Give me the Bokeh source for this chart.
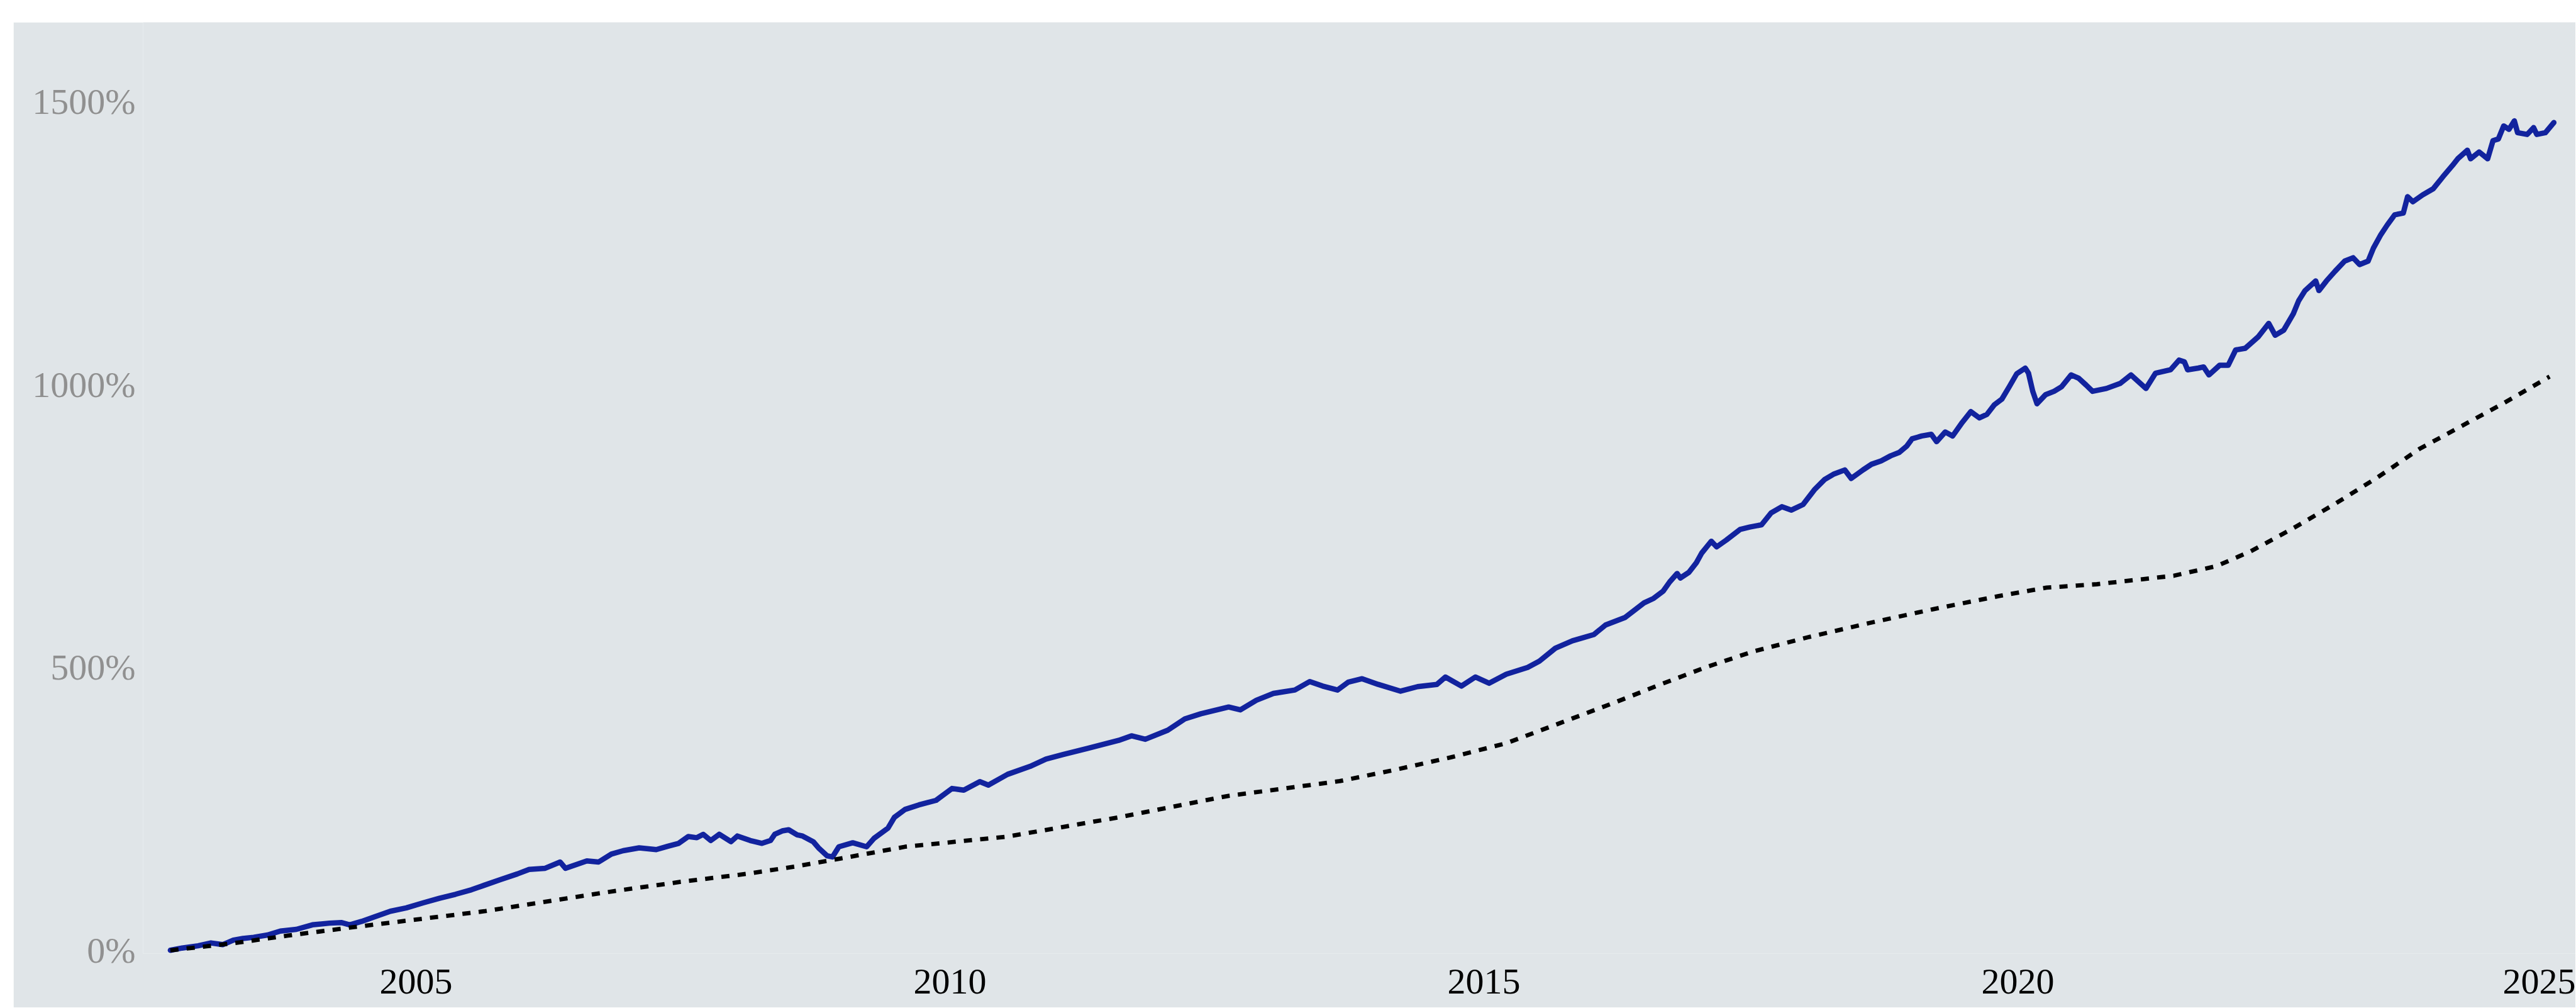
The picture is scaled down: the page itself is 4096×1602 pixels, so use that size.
from bokeh.plotting import figure
from bokeh.models import FixedTicker, Range1d, ColumnDataSource
from bokeh.embed import file_html
from bokeh.resources import INLINE

# ---- data (decimal years, cumulative return in %) ----
fund_years = [2002.70, 2002.81, 2002.96, 2003.08, 2003.19, 2003.29, 2003.38, 2003.48, 2003.61, 2003.73,
              2003.88, 2004.03, 2004.19, 2004.30, 2004.38, 2004.49, 2004.61, 2004.76, 2004.91, 2005.07,
              2005.22, 2005.37, 2005.52, 2005.64, 2005.79, 2005.95, 2006.06, 2006.21, 2006.35, 2006.40,
              2006.60, 2006.71, 2006.83, 2006.94, 2007.09, 2007.25, 2007.36, 2007.46, 2007.55, 2007.63,
              2007.69, 2007.76, 2007.84, 2007.95, 2008.01, 2008.13, 2008.24, 2008.32, 2008.36, 2008.43,
              2008.49, 2008.57, 2008.62, 2008.72, 2008.77, 2008.85, 2008.90, 2008.96, 2009.09, 2009.22,
              2009.29, 2009.42, 2009.48, 2009.58, 2009.71, 2009.87, 2010.02, 2010.13, 2010.28, 2010.36,
              2010.54, 2010.75, 2010.90, 2011.06, 2011.29, 2011.58, 2011.70, 2011.83, 2012.04, 2012.20,
              2012.35, 2012.61, 2012.72, 2012.87, 2013.03, 2013.23, 2013.37, 2013.49, 2013.63, 2013.73,
              2013.86, 2014.01, 2014.22, 2014.38, 2014.56, 2014.64, 2014.79, 2014.92, 2015.05, 2015.21,
              2015.41, 2015.52, 2015.67, 2015.83, 2016.03, 2016.14, 2016.32, 2016.50, 2016.59, 2016.68,
              2016.74, 2016.81, 2016.84, 2016.92, 2016.99, 2017.04, 2017.13, 2017.18, 2017.27, 2017.40,
              2017.49, 2017.60, 2017.69, 2017.79, 2017.88, 2017.99, 2018.10, 2018.19, 2018.28, 2018.38,
              2018.44, 2018.55, 2018.63, 2018.72, 2018.81, 2018.89, 2018.96, 2019.01, 2019.10, 2019.19,
              2019.24, 2019.32, 2019.39, 2019.48, 2019.56, 2019.64, 2019.71, 2019.78, 2019.85, 2019.92,
              2019.99, 2020.07, 2020.10, 2020.14, 2020.18, 2020.26, 2020.34, 2020.41, 2020.50, 2020.57,
              2020.64, 2020.70, 2020.83, 2020.96, 2021.06, 2021.13, 2021.20, 2021.29, 2021.43, 2021.51,
              2021.56, 2021.59, 2021.69, 2021.74, 2021.79, 2021.89, 2021.97, 2022.04, 2022.13, 2022.25,
              2022.35, 2022.41, 2022.49, 2022.58, 2022.63, 2022.69, 2022.79, 2022.82, 2022.89, 2022.97,
              2023.06, 2023.14, 2023.20, 2023.28, 2023.33, 2023.40, 2023.46, 2023.53, 2023.61, 2023.65,
              2023.70, 2023.79, 2023.89, 2023.98, 2024.07, 2024.12, 2024.21, 2024.24, 2024.32, 2024.40,
              2024.45, 2024.50, 2024.55, 2024.60, 2024.65, 2024.68, 2024.77, 2024.83, 2024.86, 2024.94,
              2025.02]
fund_values = [0, 4, 8, 13, 10, 18, 21, 23, 27, 34,
               37, 45, 48, 49, 45, 51, 59, 69, 75, 84,
               92, 99, 107, 115, 125, 135, 143, 145, 156, 145,
               158, 156, 170, 176, 181, 178, 184, 189, 201, 199,
               205, 194, 205, 192, 202, 194, 189, 194, 205, 211,
               213, 204, 202, 192, 181, 167, 165, 183, 190, 183,
               198, 216, 235, 249, 257, 265, 286, 283, 298, 292,
               311, 325, 338, 346, 357, 371, 379, 373, 389, 409,
               418, 430, 425, 442, 454, 460, 475, 467, 460, 474,
               480, 470, 458, 466, 470, 483, 467, 483, 472, 488,
               500, 511, 534, 547, 558, 575, 588, 614, 622, 635,
               651, 666, 658, 668, 685, 702, 723, 713, 725, 744,
               748, 752, 773, 784, 778, 788, 815, 832, 842, 849,
               834, 849, 859, 865, 874, 880, 891, 904, 909, 912,
               899, 916, 909, 933, 952, 941, 947, 964, 974, 996,
               1019, 1029, 1020, 988, 966, 982, 988, 996, 1017, 1011,
               999, 988, 993, 1002, 1017, 1005, 993, 1020, 1026, 1043,
               1040, 1026, 1029, 1031, 1017, 1034, 1034, 1061, 1064, 1084,
               1108, 1087, 1096, 1125, 1148, 1166, 1183, 1166, 1183, 1200,
               1218, 1224, 1212, 1218, 1241, 1265, 1282, 1300, 1303, 1332,
               1323, 1335, 1346, 1367, 1387, 1399, 1414, 1399, 1411, 1399,
               1431, 1434, 1457, 1451, 1466, 1445, 1442, 1454, 1442, 1445,
               1463]

bench_years = [2002.70, 2003.04, 2003.35, 2003.80, 2004.42, 2005.03, 2005.64, 2006.25, 2006.87, 2007.48,
               2008.09, 2008.55, 2009.00, 2009.58, 2010.54, 2011.58, 2012.61, 2013.65, 2014.17, 2014.69,
               2015.21, 2015.72, 2016.24, 2016.67, 2017.09, 2017.52, 2018.03, 2018.60, 2019.21, 2019.82,
               2020.27, 2020.74, 2021.46, 2021.86, 2022.18, 2022.58, 2022.97, 2023.37, 2023.76, 2024.16,
               2024.55, 2024.98]
bench_values = [0, 7, 14, 26, 41, 55, 69, 87, 105, 121,
                135, 148, 163, 183, 201, 235, 273, 299, 319, 341,
                366, 402, 439, 471, 501, 528, 553, 578, 603, 626,
                641, 647, 662, 679, 705, 746, 789, 836, 886, 927,
                967, 1014]

x_ticks = [2005, 2010, 2015, 2020, 2025]
y_ticks = [0, 500, 1000, 1500]
y_tick_labels = ["0%", "500%", "1000%", "1500%"]

BG = "#e0e5e8"
FONT = "Liberation Serif"

p = figure(width=4074, height=1566, output_backend="svg", toolbar_location=None,
           x_range=Range1d(2002.4446, 2025.2242), y_range=Range1d(-5.8, 1640.1),
           min_border_left=206, min_border_right=0, min_border_top=0, min_border_bottom=86,
           background_fill_color=BG, border_fill_color=BG, outline_line_color=None)
p.margin = (35, 0, 0, 21)

p.grid.visible = False

p.xaxis.ticker = FixedTicker(ticks=x_ticks)
p.yaxis.ticker = FixedTicker(ticks=y_ticks)
p.yaxis.major_label_overrides = {t: l for t, l in zip(y_ticks, y_tick_labels)}
for ax in (p.xaxis, p.yaxis):
    ax.axis_line_color = None
    ax.major_tick_line_color = None
    ax.minor_tick_line_color = None
    ax.major_tick_out = 0
    ax.major_tick_in = 0
    ax.major_label_text_font = FONT
    ax.major_label_text_font_size = "58px"
p.xaxis.major_label_text_color = "#000000"
p.yaxis.major_label_text_color = "#909090"
p.xaxis.major_label_standoff = 25
p.yaxis.major_label_standoff = 12

fund_src = ColumnDataSource(dict(x=fund_years, y=fund_values))
bench_src = ColumnDataSource(dict(x=bench_years, y=bench_values))

p.line("x", "y", source=fund_src, line_color="#12239e", line_width=8.5, line_join="round", line_cap="round")
p.line("x", "y", source=bench_src, line_color="#000000", line_width=6.8, line_dash="13 13", line_cap="butt")

open("out.html", "w").write(file_html(p, INLINE))
